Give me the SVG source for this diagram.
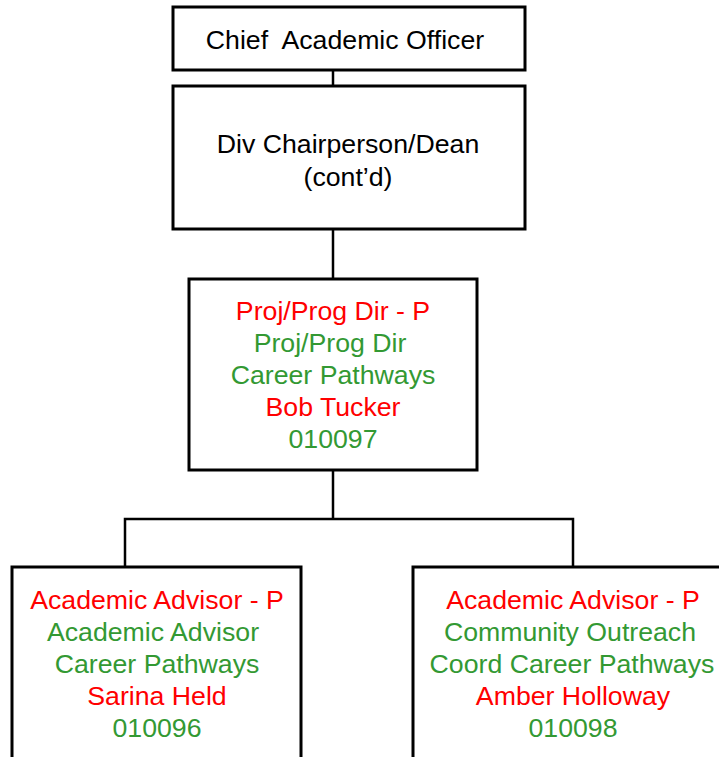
<svg xmlns="http://www.w3.org/2000/svg" width="719" height="757" viewBox="0 0 719 757">
<style>
.box{fill:#fff;stroke:#000;stroke-width:3}
.ln{fill:none;stroke:#000;stroke-width:2.5}
text{font-family:"Liberation Sans",Arial,sans-serif;font-size:26.7px;text-anchor:middle}
.k{fill:#000}.r{fill:#ff0000}.g{fill:#339933}
</style>
<rect width="719" height="757" fill="#fff"/>
<g id="connectors">
<line class="ln" x1="333" y1="70" x2="333" y2="86"/>
<line class="ln" x1="333" y1="229" x2="333" y2="279"/>
<polyline class="ln" points="333,470 333,519"/>
<polyline class="ln" points="125,567 125,519 573,519 573,567"/>
</g>
<g id="n1">
<rect class="box" x="173" y="7" width="352" height="63"/>
<text class="k" x="345" y="49" xml:space="preserve">Chief  Academic Officer</text>
</g>
<g id="n2">
<rect class="box" x="173" y="86" width="352" height="143"/>
<text class="k" x="348" y="153">Div Chairperson/Dean</text>
<text class="k" x="348" y="186">(cont’d)</text>
</g>
<g id="n3">
<rect class="box" x="189" y="279" width="288" height="191"/>
<text class="r" x="333" y="320">Proj/Prog Dir - P</text>
<text class="g" x="330" y="352">Proj/Prog Dir</text>
<text class="g" x="333" y="384">Career Pathways</text>
<text class="r" x="333" y="416">Bob Tucker</text>
<text class="g" x="333" y="448">010097</text>
</g>
<g id="n4">
<rect class="box" x="12" y="567" width="289" height="200"/>
<text class="r" x="157" y="609">Academic Advisor - P</text>
<text class="g" x="153" y="641">Academic Advisor</text>
<text class="g" x="157" y="673">Career Pathways</text>
<text class="r" x="157" y="705">Sarina Held</text>
<text class="g" x="157" y="737">010096</text>
</g>
<g id="n5">
<rect class="box" x="413" y="567" width="320" height="200"/>
<text class="r" x="573" y="609">Academic Advisor - P</text>
<text class="g" x="570" y="641">Community Outreach</text>
<text class="g" x="572" y="673">Coord Career Pathways</text>
<text class="r" x="573" y="705">Amber Holloway</text>
<text class="g" x="573" y="737">010098</text>
</g>
</svg>
